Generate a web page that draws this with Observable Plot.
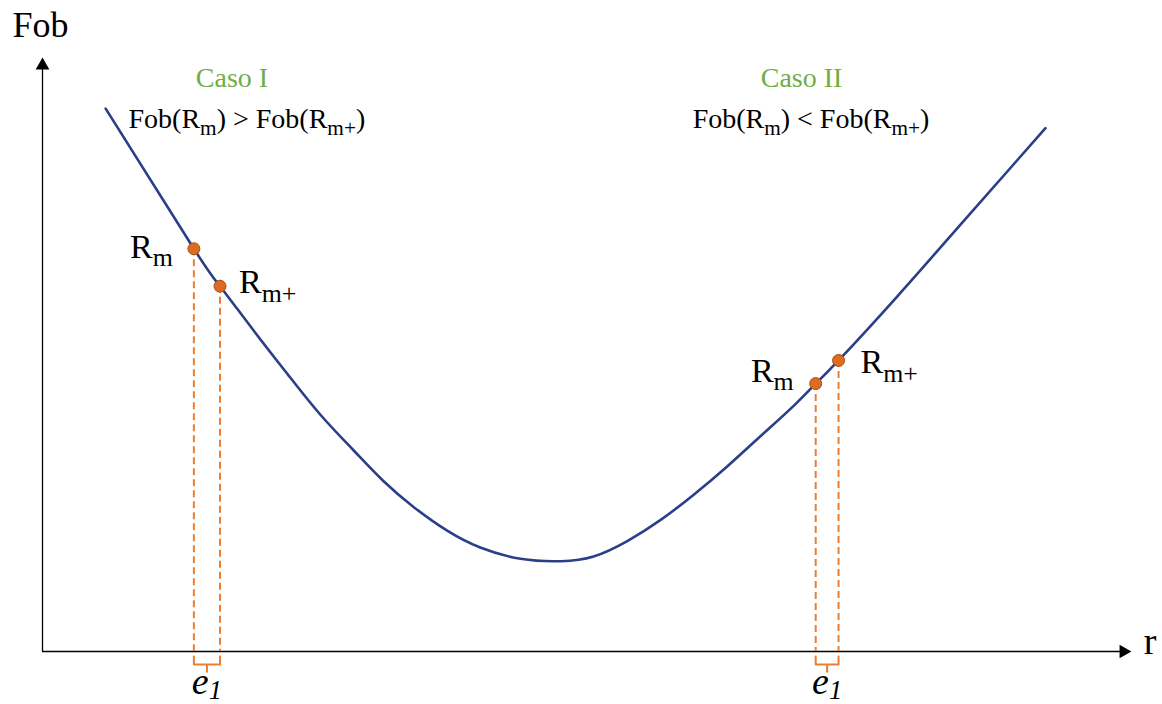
<!DOCTYPE html>
<html>
<head>
<meta charset="utf-8">
<script src="https://cdn.jsdelivr.net/npm/d3@7"></script>
<script src="https://cdn.jsdelivr.net/npm/@observablehq/plot@0.6"></script>
<style>
  html, body { margin: 0; padding: 0; background: #fff; }
  #chart { width: 1162px; height: 704px; }
</style>
</head>
<body>
<div id="chart"></div>
<script>
// Objective function Fob sampled along r
const curveR   = [5.8, 13.9, 16.3, 19.4, 22.5, 25.5, 28.6, 31.3, 34.1, 37.2, 40.2, 43.9, 47.6,
                  50.6, 53.7, 56.8, 59.8, 62.9, 65.9, 69.0, 71.0, 73.1, 78.5, 84.6, 92.1];
const curveFob = [91.4, 67.8, 61.5, 54.0, 46.7, 39.9, 33.8, 28.7, 24.3, 20.3, 17.5, 15.6, 15.2,
                  16.0, 18.6, 22.2, 26.4, 31.2, 36.2, 41.4, 45.1, 49.0, 59.8, 72.5, 88.1];

// Evaluated radii Rm and Rm+ for each case
const pointCase = ["I", "I", "II", "II"];
const pointName = ["R_{m}", "R_{m+}", "R_{m}", "R_{m+}"];
const pointR    = [13.9, 16.3, 71.0, 73.1];
const pointFob  = [67.8, 61.5, 45.1, 49.0];

// Annotation texts
const caseTitles     = ["Caso I", "Caso II"];
const caseConditions = ["Fob(R_{m}) > Fob(R_{m+})", "Fob(R_{m}) < Fob(R_{m+})"];
const stepLabel      = "e_{1}";
const axisLabelX     = "r";
const axisLabelY     = "Fob";

const serif  = "Liberation Serif, Times New Roman, serif";
const navy   = "#2b3f88";
const orange = "#ED7D31";
const green  = "#70AD47";

const idx = d3.range(pointR.length);
const cases = [0, 1];

// step bracket under each pair of points
const bracket = cases.flatMap(c => {
  const lo = pointR[2 * c], hi = pointR[2 * c + 1], mid = (lo + hi) / 2;
  return [[lo, -0.84], [lo, -2.2], [mid, -2.2], [mid, -3.4], [mid, -2.2], [hi, -2.2], [hi, -0.84]]
    .map(([r, f]) => ({c, r, f}));
});

const pointLabel = (i, opts) => Plot.text([i], {
  x: j => pointR[j], y: j => pointFob[j], text: j => pointName[j],
  fontFamily: serif, fontSize: 34, lineAnchor: "bottom", fill: "black", ...opts
});

const chart = Plot.plot({
  width: 1162,
  height: 704,
  marginLeft: 42,
  marginRight: 31,
  marginTop: 57,
  marginBottom: 53,
  x: {domain: [0, 100], axis: null},
  y: {domain: [0, 100], axis: null},
  style: {background: "white", overflow: "visible"},
  marks: [
    // axes with arrowheads
    Plot.ruleY([0], {x1: 0, x2: 99, stroke: "black", strokeWidth: 1.3}),
    Plot.ruleX([0], {y1: 0, y2: 99, stroke: "black", strokeWidth: 1.3}),
    Plot.dot([0], {x: 100, y: 0, symbol: "triangle", r: 5.1, rotate: 90, dx: -8, fill: "black", stroke: "none"}),
    Plot.dot([0], {x: 0, y: 100, symbol: "triangle", r: 5.1, dy: 8, fill: "black", stroke: "none"}),
    Plot.text([axisLabelY], {x: 0, y: 103.4, dx: -2, text: d => d, fontFamily: serif, fontSize: 36,
      textAnchor: "middle", lineAnchor: "bottom", fill: "black"}),
    Plot.text([axisLabelX], {x: 101.7, y: -0.34, text: d => d, fontFamily: serif, fontSize: 38,
      textAnchor: "middle", lineAnchor: "bottom", fill: "black"}),

    // projections of the points onto r
    Plot.ruleX(idx, {x: pointR, y1: pointFob, y2: 0, stroke: orange, strokeWidth: 2, strokeDasharray: "7,4"}),

    // step size brackets and labels
    Plot.line(bracket, {x: "r", y: "f", z: "c", stroke: orange, strokeWidth: 2,
      strokeLinejoin: "round", strokeLinecap: "round"}),
    Plot.text(cases, {x: c => (pointR[2 * c] + pointR[2 * c + 1]) / 2, y: -7.1, text: () => stepLabel,
      fontFamily: serif, fontSize: 38, fontStyle: "italic", textAnchor: "middle", lineAnchor: "bottom", fill: "black"}),

    // objective function
    Plot.line(d3.range(curveR.length), {x: curveR, y: curveFob, curve: "natural",
      stroke: navy, strokeWidth: 2.6}),

    // evaluated points
    Plot.dot(idx, {x: pointR, y: pointFob, r: 6, fill: "#DD6B20", stroke: "#A9501A", strokeWidth: 1}),
    pointLabel(0, {textAnchor: "end", dx: -21, dy: 9}),
    pointLabel(1, {textAnchor: "start", dx: 19, dy: 7}),
    pointLabel(2, {textAnchor: "end", dx: -22, dy: -2}),
    pointLabel(3, {textAnchor: "start", dx: 22, dy: 13}),

    // case titles and conditions
    Plot.text(cases, {x: c => c === 0 ? 17.4 : 69.7, y: 94.95, text: c => caseTitles[c],
      fontFamily: serif, fontSize: 28, fill: green, textAnchor: "middle", lineAnchor: "bottom"}),
    Plot.text(cases, {x: c => c === 0 ? 7.9 : 59.7, y: 88.2, text: c => caseConditions[c],
      fontFamily: serif, fontSize: 28, fill: "black", textAnchor: "start", lineAnchor: "bottom"})
  ]
});

document.getElementById("chart").appendChild(chart);

// turn "_{...}" markup into subscript tspans (size ratio and drop per label)
const subStyle = new Map([[stepLabel, {scale: 0.7, drop: 0.13}]]);
const ns = "http://www.w3.org/2000/svg";
chart.querySelectorAll("text").forEach(t => {
  const s = t.textContent;
  if (!s.includes("_{")) return;
  const {scale, drop} = subStyle.get(s) ?? {scale: 0.76, drop: 0.25};
  const fs = parseFloat(getComputedStyle(t).fontSize);
  const shift = fs * drop;
  const parts = s.split(/_\{([^}]*)\}/);
  t.textContent = "";
  let shifted = false;
  parts.forEach((p, i) => {
    if (!p) return;
    const ts = document.createElementNS(ns, "tspan");
    ts.textContent = p;
    if (i % 2) {
      ts.setAttribute("font-size", fs * scale);
      ts.setAttribute("dy", shift);
      shifted = true;
    } else if (shifted) {
      ts.setAttribute("dy", -shift);
      shifted = false;
    }
    t.appendChild(ts);
  });
});
</script>
</body>
</html>
